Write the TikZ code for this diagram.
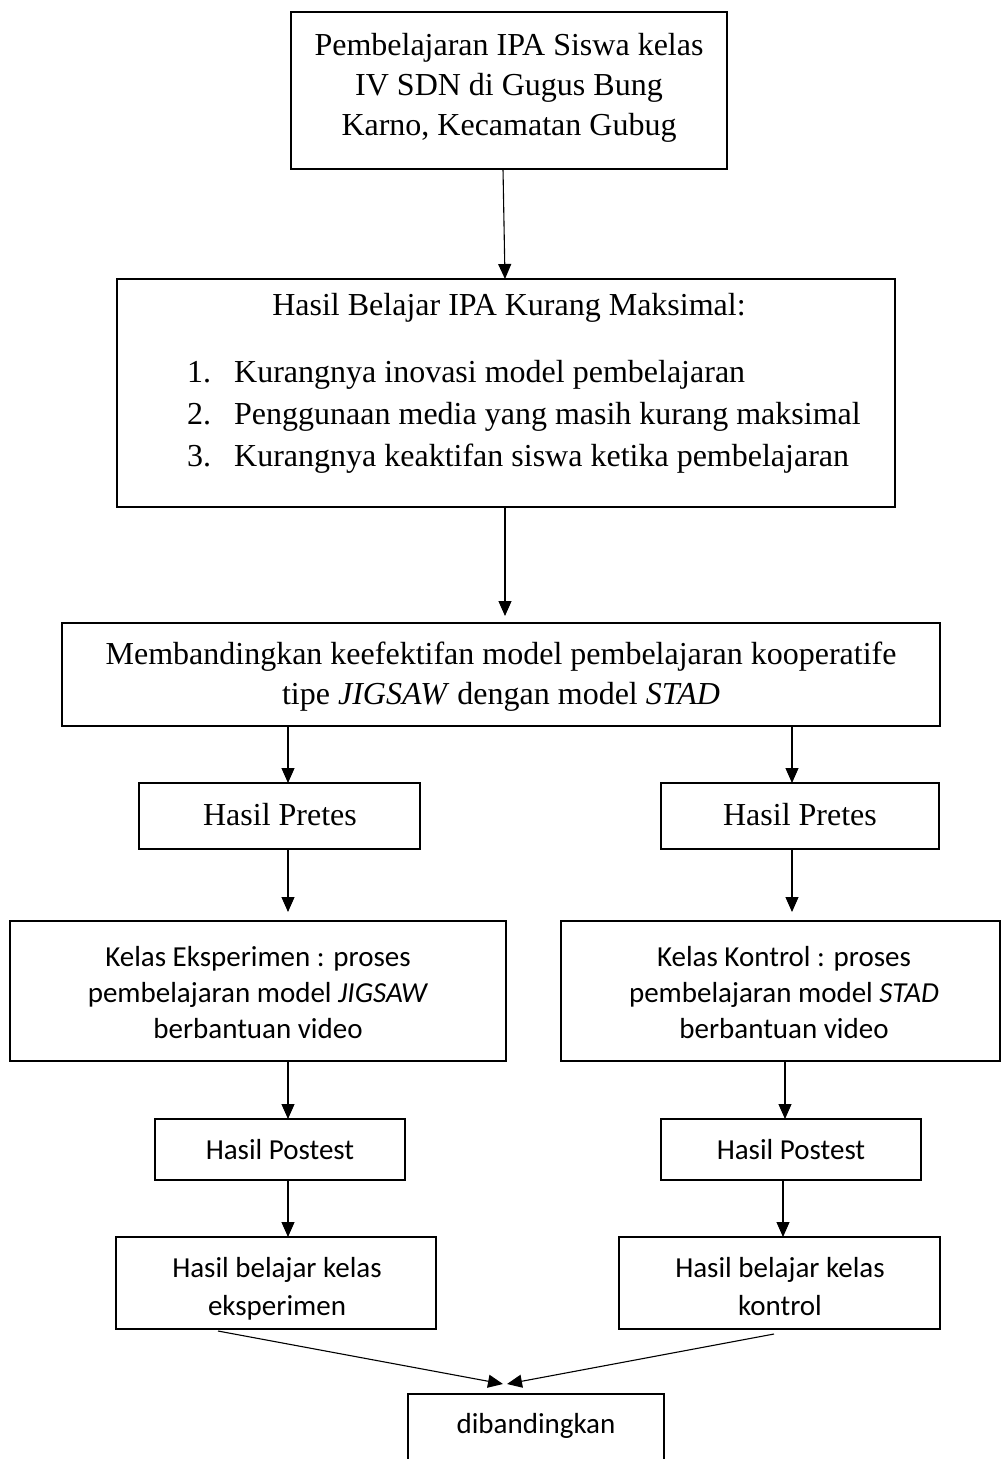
\documentclass[tikz,border=0pt]{standalone}
\usepackage{fontspec}
\usetikzlibrary{arrows.meta}
\newfontfamily\tmfam{Liberation Serif}
\newfontfamily\cbfam{Carlito}
\newcommand\tmfont{\tmfam\fontsize{32}{40}\selectfont}
\newcommand\cbfont{\cbfam\fontsize{29}{37}\selectfont}
\tikzset{
  box/.style={draw, line width=2.8pt, inner sep=0pt, outer sep=0pt},
  arr/.style={-{Triangle[length=15pt,width=13pt]}, line width=1.1pt},
  tm/.style={font=\tmfont, inner sep=0pt, anchor=base},
  tml/.style={font=\tmfont, inner sep=0pt, anchor=base west},
  cb/.style={font=\cbfont, inner sep=0pt, anchor=base},
}
\begin{document}
\begin{tikzpicture}[x=1pt,y=-1pt]
\useasboundingbox (0,0) rectangle (1002,1459);
\clip (0,0) rectangle (1002,1459);
% boxes
\node[box, minimum width=436pt, minimum height=157pt] (b1) at (509,90.5) {};
\node[box, minimum width=778pt, minimum height=228pt] (b2) at (506,393) {};
\node[box, minimum width=878pt, minimum height=103pt] (b3) at (501,674.5) {};
\node[box, minimum width=281pt, minimum height=66pt] (pl) at (279.5,816) {};
\node[box, minimum width=278pt, minimum height=66pt] (pr) at (800,816) {};
\node[box, minimum width=496pt, minimum height=140pt] (kl) at (258,991) {};
\node[box, minimum width=439pt, minimum height=140pt] (kr) at (780.5,991) {};
\node[box, minimum width=250pt, minimum height=61pt] (ol) at (280,1149.5) {};
\node[box, minimum width=260pt, minimum height=61pt] (or) at (791,1149.5) {};
\node[box, minimum width=320pt, minimum height=92pt] (hl) at (276,1283) {};
\node[box, minimum width=321pt, minimum height=92pt] (hr) at (779.5,1283) {};
\node[box, minimum width=256pt, minimum height=126pt] (d) at (536,1457) {};
% texts
\node[tm] (t1a) at (509,55) {Pembelajaran IPA Siswa kelas};
\node[tm] (t1b) at (509,95) {IV SDN di Gugus Bung};
\node[tm] (t1c) at (509,135) {Karno, Kecamatan Gubug};
\node[tm] (t2) at (509,315) {Hasil Belajar IPA Kurang Maksimal:};
\node[tml] (n1) at (187,382) {1.};
\node[tml] (i1) at (234,382) {Kurangnya inovasi model pembelajaran};
\node[tml] (n2) at (187,424) {2.};
\node[tml] (i2) at (234,424) {Penggunaan media yang masih kurang maksimal};
\node[tml] (n3) at (187,466) {3.};
\node[tml] (i3) at (234,466) {Kurangnya keaktifan siswa ketika pembelajaran};
\node[tm] (t3a) at (501,664) {Membandingkan keefektifan model pembelajaran kooperatife};
\node[tm] (t3b) at (501,704) {tipe \textit{JIGSAW} dengan model \textit{STAD}};
\node[tm] (tpl) at (280,825) {Hasil Pretes};
\node[tm] (tpr) at (800,825) {Hasil Pretes};
\node[cb] (tkla) at (258,966) {Kelas Eksperimen : proses};
\node[cb] (tklb) at (258,1002) {pembelajaran model \textit{JIGSAW}};
\node[cb] (tklc) at (258,1038) {berbantuan video};
\node[cb] (tkra) at (784,966) {Kelas Kontrol : proses};
\node[cb] (tkrb) at (784,1002) {pembelajaran model \textit{STAD}};
\node[cb] (tkrc) at (784,1038) {berbantuan video};
\node[cb] (tol) at (280,1159) {Hasil Postest};
\node[cb] (tor) at (791,1159) {Hasil Postest};
\node[cb] (thla) at (277,1277) {Hasil belajar kelas};
\node[cb] (thlb) at (277,1315) {eksperimen};
\node[cb] (thra) at (780,1277) {Hasil belajar kelas};
\node[cb] (thrb) at (780,1315) {kontrol};
\node[cb] (td) at (536,1433) {dibandingkan};
% column coordinates
\coordinate (xa) at (503,0);
\coordinate (xb) at (505,0);
\coordinate (xl) at (288,0);
\coordinate (xr1) at (792,0);
\coordinate (xr2) at (785,0);
\coordinate (xr3) at (783,0);
\coordinate (sl) at (218,1331);
\coordinate (sr) at (774,1334);
\coordinate (tipl) at (503,1384);
\coordinate (tipr) at (507,1384);
% arrows
\draw[arr] (b1.south -| xa) -- (b2.north -| xb);
\draw[arr, shorten >=7pt] (b2.south -| xb) -- (b3.north -| xb);
\draw[arr] (b3.south -| xl) -- (pl.north -| xl);
\draw[arr] (b3.south -| xr1) -- (pr.north -| xr1);
\draw[arr, shorten >=9pt] (pl.south -| xl) -- (kl.north -| xl);
\draw[arr, shorten >=9pt] (pr.south -| xr1) -- (kr.north -| xr1);
\draw[arr] (kl.south -| xl) -- (ol.north -| xl);
\draw[arr] (kr.south -| xr2) -- (or.north -| xr2);
\draw[arr] (ol.south -| xl) -- (hl.north -| xl);
\draw[arr] (or.south -| xr3) -- (hr.north -| xr3);
\draw[arr] (sl) -- (tipl);
\draw[arr] (sr) -- (tipr);
\end{tikzpicture}
\end{document}
